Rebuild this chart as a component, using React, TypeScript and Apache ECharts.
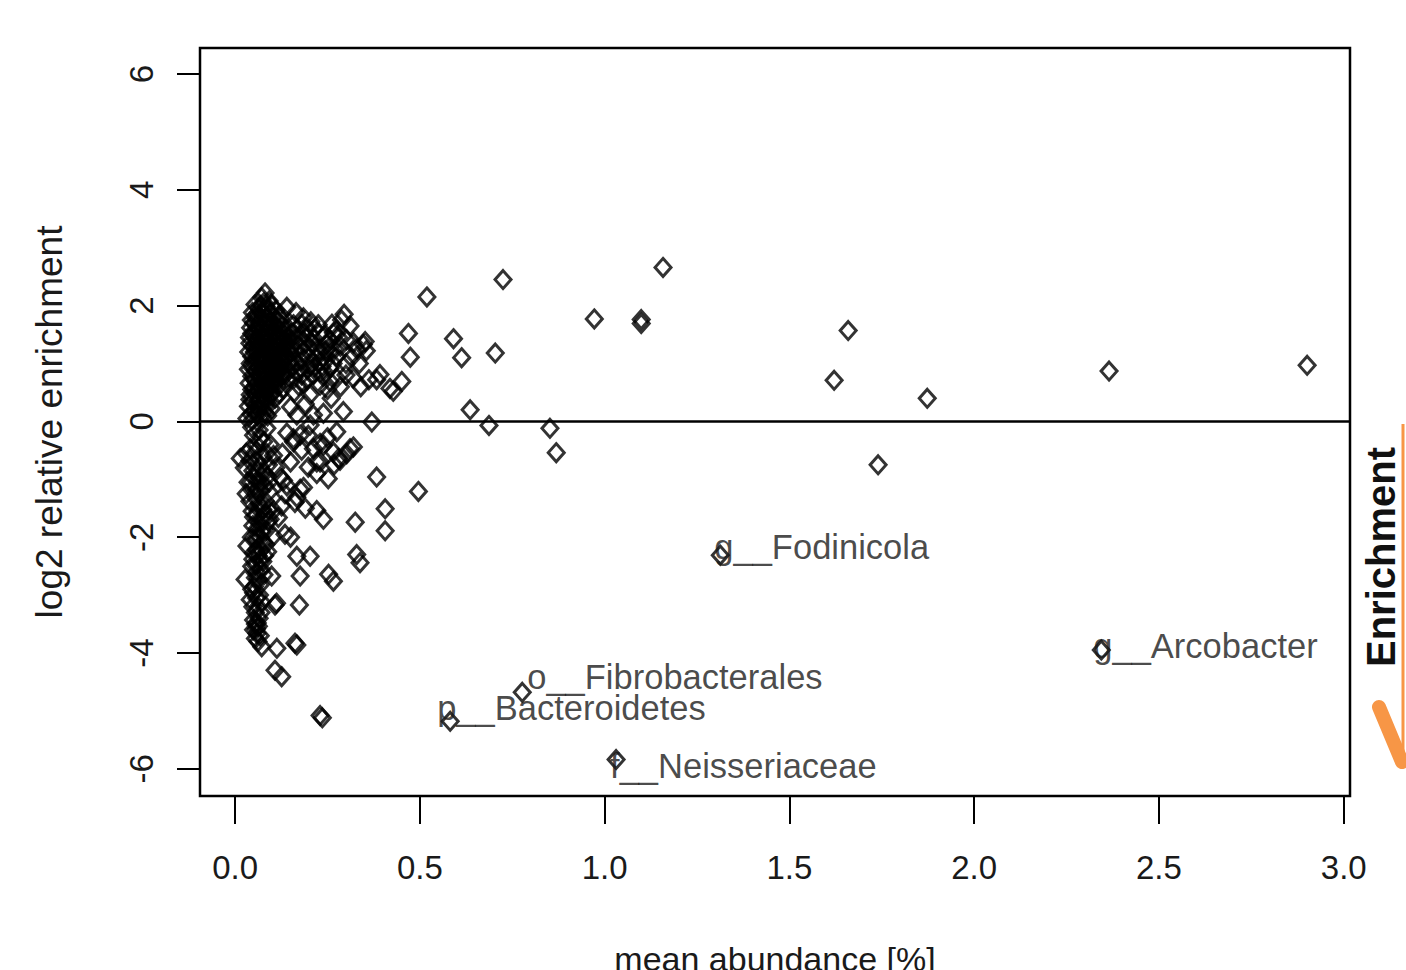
import React, { useEffect, useRef } from "react";
import * as echarts from "echarts";

// ---------- tick labels ----------
const xTickValues = [0, 0.5, 1.0, 1.5, 2.0, 2.5, 3.0];
const yTickValues = [-6, -4, -2, 0, 2, 4, 6];

// ---------- data: [mean abundance %, log2 relative enrichment] ----------
const coreAbove: [number, number][] = [
  [0.081, 2.22], [0.072, 2.14], [0.078, 2.05], [0.065, 1.95], [0.088, 1.92], [0.059, 1.85],
  [0.095, 1.88], [0.070, 1.78], [0.104, 1.80], [0.050, 1.70], [0.083, 1.72], [0.115, 1.74],
  [0.062, 1.62], [0.096, 1.63], [0.128, 1.66], [0.045, 1.52], [0.077, 1.50], [0.108, 1.55],
  [0.131, 1.50], [0.056, 1.42], [0.090, 1.40], [0.118, 1.44], [0.145, 1.45], [0.048, 1.30],
  [0.070, 1.33], [0.100, 1.30], [0.125, 1.35], [0.052, 1.20], [0.082, 1.18], [0.110, 1.22],
  [0.138, 1.25], [0.060, 1.10], [0.093, 1.08], [0.120, 1.12], [0.041, 1.00], [0.072, 0.98],
  [0.105, 0.97], [0.131, 0.99], [0.055, 0.88], [0.086, 0.87], [0.115, 0.90], [0.145, 0.88],
  [0.045, 0.78], [0.068, 0.80], [0.098, 0.76], [0.125, 0.78], [0.058, 0.68], [0.090, 0.66],
  [0.113, 0.70], [0.050, 0.58], [0.078, 0.56], [0.105, 0.60], [0.131, 0.57], [0.041, 0.46],
  [0.070, 0.47], [0.095, 0.45], [0.062, 0.36], [0.088, 0.34], [0.036, 0.26], [0.068, 0.27],
  [0.052, 0.18], [0.080, 0.16], [0.059, 0.10], [0.032, 0.05], [0.046, 0.02], [0.075, 0.06],
  [0.066, 1.25], [0.087, 1.55], [0.101, 1.12], [0.076, 0.90], [0.112, 0.84], [0.058, 1.58],
  [0.054, 2.02], [0.092, 2.08], [0.073, 1.88], [0.110, 1.92], [0.044, 1.75], [0.061, 1.68],
  [0.099, 1.70], [0.120, 1.58], [0.039, 1.45], [0.066, 1.45], [0.084, 1.35], [0.113, 1.33],
  [0.141, 1.35], [0.037, 1.20], [0.068, 1.15], [0.095, 1.20], [0.124, 1.05], [0.050, 1.02],
  [0.081, 1.05], [0.108, 1.06], [0.140, 1.12], [0.036, 0.90], [0.062, 0.93], [0.095, 0.92],
  [0.128, 0.92], [0.074, 0.72], [0.102, 0.70], [0.140, 0.72], [0.038, 0.66], [0.064, 0.60],
  [0.090, 0.55], [0.120, 0.48], [0.055, 0.48], [0.082, 0.40], [0.108, 0.40], [0.047, 0.35],
  [0.073, 0.30], [0.098, 0.22], [0.043, 0.12], [0.066, 0.20], [0.088, 0.10],
  [0.084, 1.98], [0.102, 1.50], [0.118, 1.28], [0.135, 1.08], [0.128, 0.82], [0.148, 1.22],
  [0.092, 1.62], [0.060, 1.38], [0.074, 1.08], [0.098, 0.85], [0.118, 0.62], [0.080, 0.64],
  [0.047, 1.88], [0.069, 2.00], [0.100, 2.00], [0.056, 1.78], [0.090, 1.78], [0.122, 1.85],
  [0.042, 1.62], [0.075, 1.62], [0.110, 1.65], [0.135, 1.58], [0.050, 1.48], [0.098, 1.45],
  [0.125, 1.48], [0.040, 1.35], [0.078, 1.40], [0.108, 1.38], [0.132, 1.42], [0.058, 1.28],
  [0.090, 1.25], [0.115, 1.18], [0.045, 1.12], [0.078, 1.12], [0.103, 1.02], [0.130, 1.15],
  [0.065, 1.03], [0.088, 0.96], [0.118, 0.98], [0.048, 0.92], [0.072, 0.85], [0.105, 0.85],
  [0.135, 0.80], [0.052, 0.72], [0.085, 0.72], [0.110, 0.76], [0.062, 0.53], [0.093, 0.60],
  [0.045, 0.55], [0.077, 0.44], [0.102, 0.50], [0.055, 0.28], [0.085, 0.25], [0.040, 0.38],
  [0.060, 0.15],
];

const fanAbove: [number, number][] = [
  [0.140, 1.97], [0.185, 1.79], [0.225, 1.67], [0.266, 1.53], [0.295, 1.85], [0.311, 1.65],
  [0.347, 1.33], [0.352, 1.38], [0.355, 1.22], [0.248, 1.33], [0.212, 1.44], [0.275, 1.12],
  [0.230, 1.04], [0.257, 0.92], [0.275, 0.75], [0.212, 0.81], [0.230, 0.63], [0.203, 0.46],
  [0.185, 0.66], [0.176, 0.92], [0.149, 1.04], [0.162, 1.21], [0.131, 1.27], [0.185, 1.50],
  [0.158, 1.67], [0.122, 1.79], [0.203, 1.27], [0.230, 1.21], [0.257, 1.21], [0.302, 1.41],
  [0.320, 1.36], [0.230, 0.86], [0.257, 0.69], [0.320, 0.75], [0.392, 0.81], [0.383, 0.72],
  [0.419, 0.57], [0.451, 0.69], [0.428, 0.52], [0.293, 0.17], [0.239, 0.14], [0.212, 0.11],
  [0.167, 0.11], [0.370, -0.01], [0.165, 1.58], [0.195, 1.62], [0.240, 1.48], [0.285, 1.30],
  [0.200, 1.10], [0.180, 0.80], [0.160, 0.50], [0.190, 0.30], [0.150, 0.25], [0.260, 0.40],
  [0.300, 1.00], [0.340, 0.60], [0.165, 1.88], [0.205, 1.72], [0.145, 1.60],
  [0.156, 1.32], [0.150, 1.18], [0.155, 0.95], [0.160, 0.75], [0.170, 1.42], [0.178, 1.05],
  [0.172, 0.62], [0.190, 1.35], [0.215, 1.60], [0.222, 1.25], [0.245, 1.05], [0.196, 0.90],
  [0.215, 0.95], [0.238, 0.78], [0.265, 1.00], [0.280, 1.45], [0.262, 1.68], [0.250, 0.55],
  [0.285, 0.60], [0.300, 0.80], [0.315, 1.10], [0.330, 1.25], [0.336, 1.00], [0.362, 0.72],
  [0.288, 1.75], [0.275, 1.58],
  [0.152, 1.52], [0.160, 1.05], [0.168, 0.85], [0.175, 1.30], [0.185, 1.20], [0.195, 0.72],
  [0.205, 0.98], [0.210, 1.35], [0.220, 1.10], [0.235, 0.95], [0.245, 1.22], [0.258, 1.40],
  [0.270, 1.25], [0.180, 1.68], [0.195, 1.45], [0.228, 1.52],
];

const coreBelow: [number, number][] = [
  [0.014, -0.64], [0.050, -0.24], [0.041, -0.47], [0.086, -0.12], [0.077, -0.35], [0.104, -0.59],
  [0.059, -0.70], [0.030, -0.55], [0.065, -0.15], [0.095, -0.40], [0.048, -0.85], [0.078, -0.90],
  [0.060, -1.02], [0.092, -1.05], [0.045, -1.18], [0.070, -1.20], [0.055, -1.32], [0.082, -1.38],
  [0.062, -1.50], [0.090, -1.52], [0.050, -1.65], [0.075, -1.72], [0.060, -1.85], [0.085, -1.88],
  [0.068, -2.00], [0.077, -2.09], [0.032, -2.15], [0.058, -2.22], [0.050, -2.27], [0.088, -2.25],
  [0.065, -2.40], [0.045, -2.50], [0.070, -2.55], [0.027, -2.73], [0.055, -2.70], [0.099, -2.67],
  [0.050, -2.96], [0.041, -3.08], [0.062, -3.20], [0.050, -3.43], [0.063, -3.54], [0.059, -3.66],
  [0.055, -3.50], [0.072, -3.89], [0.108, -3.17], [0.112, -3.14], [0.025, -0.80], [0.030, -1.25],
  [0.035, -1.05], [0.045, -0.10], [0.070, -0.28], [0.058, -0.40], [0.085, -0.55], [0.040, -0.68],
  [0.068, -0.78], [0.090, -0.75], [0.052, -0.98], [0.080, -1.10], [0.040, -1.38], [0.066, -1.42],
  [0.058, -1.62], [0.082, -1.60], [0.048, -1.80], [0.072, -1.90], [0.055, -2.05], [0.083, -2.12],
  [0.062, -2.32], [0.048, -2.38], [0.075, -2.42], [0.058, -2.60], [0.068, -2.82], [0.052, -2.85],
  [0.058, -3.05], [0.072, -3.12], [0.055, -3.30], [0.065, -3.40], [0.050, -3.60], [0.068, -3.70],
  [0.062, -3.80],
  [0.052, -0.55], [0.075, -0.62], [0.062, -0.88], [0.088, -0.95], [0.044, -1.05], [0.068, -1.05],
  [0.092, -1.22], [0.058, -1.18], [0.075, -1.52], [0.046, -1.55], [0.066, -1.75], [0.090, -1.72],
  [0.058, -1.95], [0.044, -2.00], [0.070, -2.22], [0.080, -2.32], [0.055, -2.48], [0.078, -2.65],
  [0.062, -2.72], [0.045, -2.90], [0.066, -3.00], [0.048, -3.20], [0.070, -3.30], [0.060, -3.48],
  [0.058, -3.58], [0.055, -3.75],
];

const fanBelow: [number, number][] = [
  [0.158, -0.30], [0.176, -0.24], [0.212, -0.47], [0.311, -0.47], [0.275, -0.18], [0.280, -0.64],
  [0.230, -0.70], [0.158, -0.35], [0.230, -0.38], [0.266, -0.53], [0.302, -0.56], [0.320, -0.44],
  [0.284, -0.67], [0.221, -0.70], [0.198, -0.79], [0.252, -0.99], [0.221, -0.90], [0.122, -0.96],
  [0.140, -1.11], [0.176, -1.17], [0.162, -1.40], [0.126, -1.46], [0.104, -1.54], [0.117, -1.66],
  [0.135, -1.95], [0.104, -1.98], [0.167, -2.33], [0.203, -2.33], [0.221, -1.54], [0.239, -1.69],
  [0.253, -2.64], [0.266, -2.76], [0.176, -2.67], [0.174, -3.17], [0.162, -3.83], [0.167, -3.86],
  [0.113, -3.92], [0.108, -4.30], [0.126, -4.41], [0.383, -0.96], [0.496, -1.21], [0.406, -1.51],
  [0.406, -1.89], [0.325, -1.74], [0.329, -2.30], [0.338, -2.44], [0.230, -5.08], [0.236, -5.12],
  [0.095, -1.69], [0.131, -1.02], [0.167, -1.31], [0.185, -1.14], [0.198, -0.24], [0.239, -0.41],
  [0.203, -0.06], [0.140, -0.20], [0.128, -0.55], [0.150, -0.70], [0.180, -0.50], [0.110, -0.80],
  [0.135, -1.25], [0.250, -0.28], [0.268, -0.75], [0.190, -1.50], [0.150, -2.00],
];

const outliers: [number, number][] = [
  [0.519, 2.15], [0.469, 1.52], [0.591, 1.43], [0.613, 1.10], [0.474, 1.11], [0.636, 0.20],
  [0.725, 2.45], [1.158, 2.66], [0.972, 1.77], [1.099, 1.76], [1.099, 1.69], [1.659, 1.57],
  [1.621, 0.71], [1.873, 0.40], [2.365, 0.87], [2.901, 0.97], [1.740, -0.75], [0.704, 1.18],
  [0.687, -0.07], [0.852, -0.12], [0.869, -0.54],
];

// labelled taxa
const taxaNames = ["g__Fodinicola", "g__Arcobacter", "o__Fibrobacterales", "p__Bacteroidetes", "f__Neisseriaceae"];
const taxaAbundance = [1.313, 2.344, 0.777, 0.582, 1.031];
const taxaEnrichment = [-2.31, -3.95, -4.68, -5.18, -5.84];
// label nudges in pixels (style only)
const taxaLabelNudge: [number, number][] = [[-6, -8], [-8, -4], [5, -15], [-13, -13], [-6, 6]];

const FONT = "'Liberation Sans', Arial, sans-serif";
const TEXT = "#1a1a1a";

export default function App() {
  const ref = useRef<HTMLDivElement>(null);
  useEffect(() => {
    const chart = echarts.init(ref.current!, null, { renderer: "svg" });
    const allPoints = [...coreAbove, ...fanAbove, ...coreBelow, ...fanBelow, ...outliers];
    const labelled = taxaNames.map((n, i) => ({
      name: n,
      value: [taxaAbundance[i], taxaEnrichment[i]],
      label: { offset: taxaLabelNudge[i] },
    }));
    const diamond = {
      symbol: "diamond",
      symbolSize: [16, 18],
      itemStyle: { color: "rgba(0,0,0,0)", borderColor: "#000", borderWidth: 3 },
      emphasis: { disabled: true },
    };
    chart.setOption({
      animation: false,
      backgroundColor: "#fff",
      textStyle: { fontFamily: FONT },
      grid: {
        left: 200, right: 56, top: 48, bottom: 174,
        outerBoundsMode: "none", containLabel: false,
        show: true, borderColor: "#000", borderWidth: 2.5, backgroundColor: "transparent",
      },
      xAxis: {
        type: "value", min: -0.095, max: 3.017,
        axisLine: { show: false, onZero: false },
        splitLine: { show: false },
        axisTick: { show: true, customValues: xTickValues, length: 28, lineStyle: { color: "#000", width: 2 } },
        axisLabel: {
          customValues: xTickValues, formatter: (v: number) => v.toFixed(1),
          fontSize: 33, color: TEXT, margin: 55, fontFamily: FONT,
        },
        name: "mean abundance [%]", nameLocation: "middle", nameGap: 146,
        nameTextStyle: { fontSize: 34, color: TEXT, fontFamily: FONT },
      },
      yAxis: {
        type: "value", min: -6.47, max: 6.45,
        axisLine: { show: false, onZero: false },
        splitLine: { show: false },
        axisTick: { show: true, customValues: yTickValues, length: 23, lineStyle: { color: "#000", width: 2 } },
        axisLabel: {
          customValues: yTickValues, formatter: (v: number) => String(v), rotate: 90,
          fontSize: 33, color: TEXT, margin: 42, fontFamily: FONT,
        },
        name: "log2 relative enrichment", nameLocation: "middle", nameGap: 132, nameRotate: 90,
        nameTextStyle: { fontSize: 37, color: TEXT, fontFamily: FONT },
      },
      series: [
        {
          type: "scatter", name: "taxa", data: allPoints, ...diamond,
          markLine: {
            silent: true, symbol: ["none", "none"], label: { show: false },
            lineStyle: { color: "#000", width: 2.5, type: "solid" },
            data: [{ yAxis: 0 }],
          },
        },
        {
          type: "scatter", name: "labelled", data: labelled, ...diamond,
          label: {
            show: true, position: "inside", align: "left", verticalAlign: "middle",
            formatter: "{b}", fontSize: 34.5, color: TEXT, fontFamily: FONT,
          },
        },
      ],
      graphic: [
        {
          type: "text", x: 1381, y: 557, rotation: Math.PI / 2,
          style: {
            text: "Enrichment", font: "bold 40px 'Liberation Sans', Arial, sans-serif",
            fill: "#111", textAlign: "center", textVerticalAlign: "middle",
          },
        },
        {
          type: "line", shape: { x1: 1403, y1: 424, x2: 1403, y2: 765 },
          style: { stroke: "#F79646", lineWidth: 3 },
        },
        {
          type: "line", shape: { x1: 1379, y1: 707, x2: 1402, y2: 762 },
          style: { stroke: "#F79646", lineWidth: 14, lineCap: "round" },
        },
      ],
    });
    return () => chart.dispose();
  }, []);
  return (
    <div
      ref={ref}
      style={{ position: "fixed", left: 0, top: 0, width: 1406, height: 970, background: "#fff" }}
    />
  );
}
